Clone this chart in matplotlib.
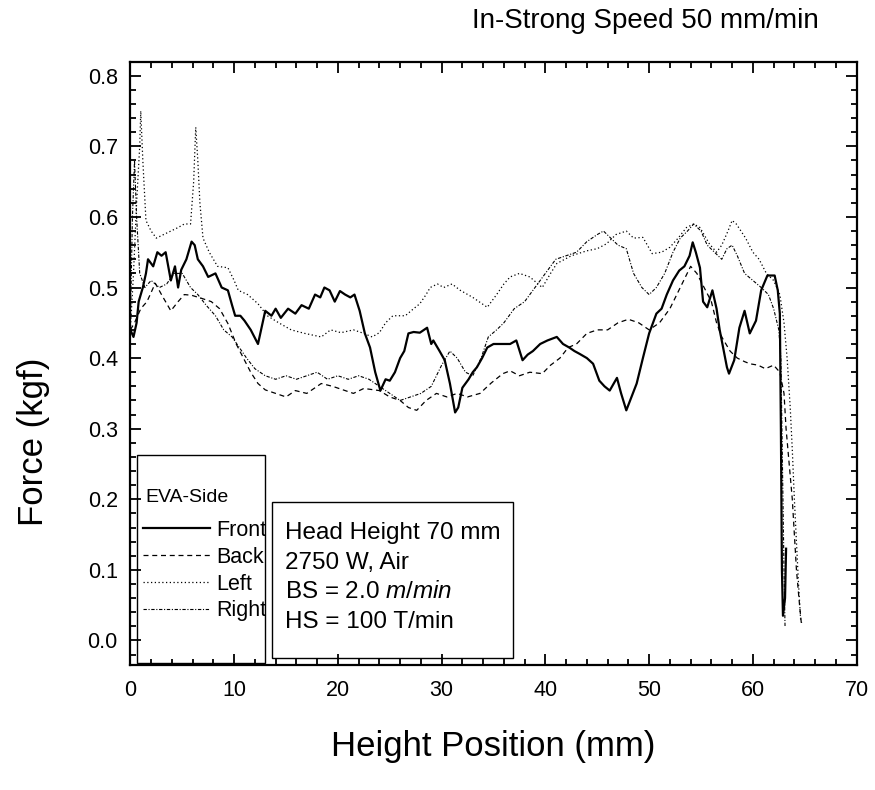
# -*- coding: utf-8 -*-
"""
Force vs height position for the four EVA sides (front, back, left, right).
"""
#Imports
import matplotlib
matplotlib.use("Agg")
from matplotlib import pyplot as plt
from matplotlib.lines import Line2D
from matplotlib.patches import Rectangle
from matplotlib.ticker import MultipleLocator

plt.rcParams['font.family'] = ['Liberation Sans', 'DejaVu Sans']
plt.rcParams['mathtext.fontset'] = 'custom'
plt.rcParams['mathtext.rm'] = 'Liberation Sans'
plt.rcParams['mathtext.it'] = 'Liberation Sans:italic'

#Data
front_x = [0.0, 0.3, 0.6, 0.8, 1.2, 1.5, 1.7, 2.2, 2.6, 3.0, 3.4, 3.9, 4.3, 4.6, 4.9, 5.4, 5.9, 6.2,
           6.5, 7.0, 7.5, 8.2, 8.8, 9.4, 9.8, 10.1, 10.6, 11.0, 11.6, 12.3, 12.6, 13.0, 13.6, 14.0,
           14.5, 15.2, 15.9, 16.5, 17.2, 17.8, 18.3, 18.7, 19.2, 19.7, 20.2, 20.7, 21.2, 21.6, 22.1,
           22.6, 23.1, 23.6, 24.1, 24.6, 25.0, 25.5, 26.0, 26.4, 26.8, 27.3, 27.9, 28.6, 29.0, 29.2,
           29.8, 30.3, 30.8, 31.3, 31.6, 32.0, 32.6, 33.0, 33.4, 33.9, 34.4, 35.0, 35.9, 36.6, 37.2,
           37.8, 38.3, 38.8, 39.5, 40.2, 41.1, 41.7, 42.3, 42.8, 43.3, 44.0, 44.6, 45.2, 45.7, 46.2,
           46.9, 47.3, 47.8, 48.3, 48.8, 49.4, 50.0, 50.7, 51.2, 51.7, 52.3, 52.9, 53.4, 53.9, 54.2,
           54.5, 54.9, 55.2, 55.6, 56.1, 56.5, 56.8, 57.2, 57.5, 57.7, 58.2, 58.7, 59.2, 59.7, 60.3,
           60.8, 61.4, 62.1, 62.4, 62.6, 62.7, 62.8, 62.9, 63.1, 63.2]
front_y = [0.44, 0.43, 0.45, 0.48, 0.50, 0.52, 0.54, 0.53, 0.55, 0.545, 0.55, 0.51, 0.53, 0.50, 0.525,
           0.54, 0.565, 0.56, 0.54, 0.53, 0.515, 0.52, 0.50, 0.496, 0.475, 0.46, 0.46, 0.453, 0.44,
           0.42, 0.44, 0.467, 0.46, 0.47, 0.457, 0.47, 0.463, 0.475, 0.47, 0.49, 0.486, 0.50, 0.496,
           0.48, 0.495, 0.49, 0.486, 0.49, 0.467, 0.435, 0.415, 0.38, 0.354, 0.37, 0.368, 0.38, 0.40,
           0.41, 0.435, 0.437, 0.436, 0.443, 0.42, 0.425, 0.41, 0.397, 0.364, 0.323, 0.33, 0.358,
           0.37, 0.38, 0.387, 0.40, 0.415, 0.42, 0.42, 0.42, 0.425, 0.397, 0.405, 0.41, 0.42, 0.425,
           0.43, 0.42, 0.415, 0.41, 0.406, 0.40, 0.392, 0.368, 0.36, 0.354, 0.372, 0.35, 0.326,
           0.345, 0.364, 0.40, 0.435, 0.463, 0.47, 0.49, 0.51, 0.524, 0.53, 0.545, 0.564, 0.55,
           0.528, 0.48, 0.472, 0.496, 0.47, 0.44, 0.41, 0.387, 0.378, 0.397, 0.443, 0.467, 0.435,
           0.453, 0.496, 0.517, 0.517, 0.496, 0.463, 0.30, 0.10, 0.035, 0.06, 0.13]

back_x = [0.0, 0.4, 1.0, 1.6, 2.4, 3.0, 3.9, 4.6, 5.2, 5.9, 6.8, 7.8, 8.6, 9.4, 10.2, 11.0, 11.6,
          12.3, 13.0, 14.0, 15.0, 15.9, 17.0, 18.4, 19.5, 20.5, 21.5, 22.5, 24.0, 25.0, 26.0, 26.8,
          27.6, 28.5, 29.5, 30.5, 31.5, 32.5, 33.7, 34.8, 35.9, 36.6, 37.5, 38.5, 39.7, 40.5, 41.4,
          42.2, 43.0, 44.0, 45.0, 46.0, 47.0, 48.0, 49.0, 50.0, 51.0, 52.0, 53.0, 54.0, 54.6, 55.3,
          56.0, 56.5, 57.0, 57.8, 58.5, 59.2, 59.7, 60.5, 61.2, 62.0, 62.6, 63.0, 63.2, 63.5, 63.8,
          64.0, 64.2, 64.5, 64.7]
back_y = [0.44, 0.45, 0.47, 0.48, 0.506, 0.49, 0.467, 0.48, 0.49, 0.489, 0.485, 0.48, 0.47, 0.449,
          0.42, 0.397, 0.38, 0.364, 0.355, 0.35, 0.345, 0.354, 0.35, 0.364, 0.36, 0.355, 0.35, 0.357,
          0.354, 0.345, 0.34, 0.33, 0.326, 0.34, 0.35, 0.345, 0.35, 0.345, 0.35, 0.365, 0.378, 0.382,
          0.375, 0.38, 0.378, 0.39, 0.40, 0.415, 0.42, 0.435, 0.44, 0.44, 0.45, 0.455, 0.45, 0.44,
          0.45, 0.47, 0.50, 0.53, 0.52, 0.50, 0.48, 0.45, 0.43, 0.41, 0.40, 0.395, 0.392, 0.39, 0.385,
          0.39, 0.38, 0.35, 0.30, 0.25, 0.20, 0.15, 0.10, 0.05, 0.02]

left_x = [0.0, 0.3, 0.6, 0.9, 1.0, 1.2, 1.5, 2.0, 2.5, 3.2, 3.9, 4.6, 5.2, 5.8, 6.1, 6.3, 6.5, 6.7,
          7.0, 7.6, 8.4, 9.4, 10.0, 10.4, 11.3, 12.3, 13.2, 14.3, 15.5, 16.8, 18.4, 19.3, 20.3,
          21.5, 22.5, 23.3, 24.0, 24.6, 25.3, 26.5, 27.3, 27.9, 28.5, 28.9, 29.6, 30.2, 31.0, 31.8,
          33.0, 34.4, 35.3, 36.0, 36.6, 37.5, 38.5, 39.7, 40.5, 41.1, 42.5, 44.0, 45.0, 45.9, 46.8,
          47.8, 48.5, 49.4, 50.3, 51.2, 52.0, 52.8, 53.6, 54.3, 54.9, 55.8, 56.5, 57.0, 57.6, 58.0,
          58.4, 59.3, 60.0, 60.6, 61.3, 62.0, 62.6, 63.0, 63.3, 63.6, 63.8, 64.0, 64.2, 64.4, 64.6,
          64.7]
left_y = [0.44, 0.52, 0.62, 0.70, 0.75, 0.68, 0.595, 0.58, 0.57, 0.575, 0.58, 0.585, 0.59, 0.59,
          0.65, 0.727, 0.68, 0.62, 0.57, 0.55, 0.53, 0.528, 0.51, 0.496, 0.49, 0.477, 0.46, 0.45,
          0.44, 0.435, 0.43, 0.44, 0.436, 0.44, 0.435, 0.43, 0.436, 0.45, 0.46, 0.46, 0.47, 0.477,
          0.49, 0.50, 0.505, 0.50, 0.505, 0.496, 0.486, 0.472, 0.49, 0.505, 0.515, 0.52, 0.515, 0.50,
          0.52, 0.534, 0.545, 0.552, 0.555, 0.562, 0.575, 0.58, 0.57, 0.571, 0.548, 0.55, 0.557,
          0.57, 0.585, 0.59, 0.585, 0.562, 0.55, 0.56, 0.58, 0.595, 0.59, 0.57, 0.55, 0.54, 0.52,
          0.51, 0.49, 0.45, 0.40, 0.33, 0.27, 0.20, 0.14, 0.08, 0.03, 0.025]

right_x = [0.0, 0.2, 0.4, 0.6, 0.9, 1.4, 2.0, 2.8, 3.5, 4.2, 5.0, 5.8, 6.5, 7.3, 8.2, 9.0, 9.8, 10.5,
           11.2, 12.0, 13.0, 14.0, 15.0, 16.0, 17.0, 18.0, 19.0, 20.0, 21.0, 22.0, 23.0, 24.0, 25.0,
           26.0, 27.0, 28.0, 29.0, 30.0, 30.8, 31.5, 32.3, 33.0, 33.8, 34.5, 35.3, 36.0, 37.0, 38.0,
           39.0, 40.0, 41.0, 42.0, 43.0, 44.0, 45.0, 45.6, 46.3, 47.0, 47.8, 48.5, 49.3, 50.0, 50.7,
           51.5, 52.3, 53.0, 53.7, 54.3, 55.0, 55.6, 56.3, 57.0, 57.5, 58.0, 58.5, 59.2, 60.0, 60.8,
           61.5, 62.0, 62.5, 62.7, 62.8, 62.9, 63.0, 63.1]
right_y = [0.45, 0.60, 0.68, 0.60, 0.52, 0.50, 0.51, 0.50, 0.505, 0.52, 0.52, 0.50, 0.49, 0.475, 0.46,
           0.44, 0.43, 0.415, 0.40, 0.385, 0.375, 0.37, 0.375, 0.37, 0.375, 0.38, 0.37, 0.375, 0.37,
           0.375, 0.37, 0.36, 0.35, 0.34, 0.345, 0.35, 0.36, 0.39, 0.41, 0.40, 0.38, 0.375, 0.40,
           0.43, 0.44, 0.45, 0.47, 0.48, 0.50, 0.52, 0.54, 0.545, 0.55, 0.565, 0.575, 0.58, 0.57,
           0.56, 0.555, 0.52, 0.50, 0.49, 0.50, 0.52, 0.55, 0.57, 0.58, 0.59, 0.58, 0.56, 0.55, 0.54,
           0.555, 0.56, 0.545, 0.52, 0.51, 0.50, 0.49, 0.47, 0.44, 0.40, 0.30, 0.20, 0.10, 0.02]

labels = ["Front", "Back", "Left", "Right"]
styles = ["-", (0, (4, 3)), (0, (1, 2)), (0, (3, 1.5, 1, 1.5))]
widths = [1.6, 0.9, 0.9, 0.8]

info_lines = ["Head Height 70 mm", "2750 W, Air", r"BS = 2.0 $\mathit{m/min}$", "HS = 100 T/min"]

#Figure
fig = plt.figure(figsize=(8.75, 7.9), dpi=100)
ax = fig.add_axes([0.149, 0.158, 0.830, 0.764])

series = [(front_x, front_y), (back_x, back_y), (left_x, left_y), (right_x, right_y)]
for (xs, ys), ls, lw in zip(series, styles, widths):
    ax.plot(xs, ys, color="black", linestyle=ls, linewidth=lw)

ax.set_xlim(0, 70)
ax.set_ylim(-0.035, 0.82)
ax.xaxis.set_major_locator(MultipleLocator(10))
ax.xaxis.set_minor_locator(MultipleLocator(2))
ax.yaxis.set_major_locator(MultipleLocator(0.1))
ax.yaxis.set_minor_locator(MultipleLocator(0.02))
ax.yaxis.set_major_formatter(plt.FormatStrFormatter("%.1f"))
ax.tick_params(which="both", direction="in", top=True, right=True, labelsize=15.5, width=1.3)
ax.tick_params(which="major", length=8)
ax.tick_params(which="minor", length=4)
ax.tick_params(axis="x", pad=11)
ax.tick_params(axis="y", pad=9)
for sp in ax.spines.values():
    sp.set_linewidth(1.6)

ax.set_xlabel("Height Position (mm)", fontsize=25)
ax.set_ylabel("Force (kgf)", fontsize=25)
ax.xaxis.set_label_coords(0.5, -0.107)
ax.yaxis.set_label_coords(-0.11, 0.37)
fig.text(0.936, 0.973, "In-Strong Speed 50 mm/min", fontsize=20, ha="right", va="center")

#Legend with its own frame and title
ax.add_patch(Rectangle((0.0096, 0.003), 0.176, 0.345, transform=ax.transAxes, fill=False,
                       edgecolor="black", linewidth=1.0, zorder=5))
ax.text(0.02, 0.278, "EVA-Side", transform=ax.transAxes, fontsize=14, va="center")
handles = [Line2D([], [], color="black", linestyle=ls, linewidth=lw) for ls, lw in zip(styles, widths)]
leg = ax.legend(handles, labels, fontsize=15.5, frameon=False,
                loc="upper left", bbox_to_anchor=(0.0, 0.262), handlelength=3.1,
                handletextpad=0.3, labelspacing=0.27, borderaxespad=0.2)

#Conditions box
ax.add_patch(Rectangle((0.195, 0.0116), 0.332, 0.258, transform=ax.transAxes, fill=False,
                       edgecolor="black", linewidth=1.0, zorder=5))
for i, line in enumerate(info_lines):
    ax.text(0.213, 0.219 - i * 0.049, line, transform=ax.transAxes, fontsize=17.5, va="center")

fig.savefig("out.png", dpi=100)
